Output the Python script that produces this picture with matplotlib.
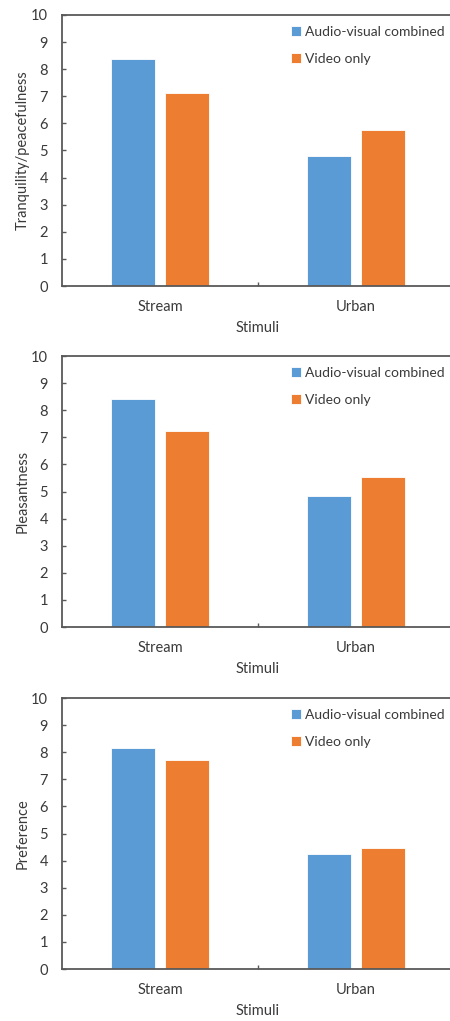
import numpy as np
import matplotlib
matplotlib.use("Agg")
import matplotlib.pyplot as plt
from matplotlib.ticker import FixedLocator

plt.rcParams['font.family'] = ['Lato', 'DejaVu Sans']

stimuli = ["Stream", "Urban"]
series_names = ["Audio-visual combined", "Video only"]
ylabels = ["Tranquility/peacefulness", "Pleasantness", "Preference"]

# values per panel: [stream, urban]
tranq_av = [8.36, 4.78]
tranq_vo = [7.14, 5.77]
pleas_av = [8.41, 4.84]
pleas_vo = [7.22, 5.53]
pref_av = [8.16, 4.26]
pref_vo = [7.71, 4.45]

panels = [(tranq_av, tranq_vo), (pleas_av, pleas_vo), (pref_av, pref_vo)]

blue = "#5B9BD5"
orange = "#ED7D31"
txt = "#3a3a3a"
spine = "#595959"

W, H = 450, 1021
fig = plt.figure(figsize=(W / 100, H / 100), dpi=100)

# axes boxes in pixels: (top, bottom)
boxes = [(15, 286), (356, 627), (698, 969)]
left_px, right_px = 62, 454

x = np.arange(len(stimuli))
bw = 0.225
off = 0.14

for (av, vo), ylab, (top, bot) in zip(panels, ylabels, boxes):
    ax = fig.add_axes([left_px / W, 1 - bot / H, (right_px - left_px) / W, (bot - top) / H])
    ax.bar(x - off, av, bw, color=blue, edgecolor="white", linewidth=0.6, label=series_names[0])
    ax.bar(x + off, vo, bw, color=orange, edgecolor="white", linewidth=0.6, label=series_names[1])
    ax.set_xlim(-0.5, 1.5)
    ax.set_ylim(0, 10)
    ax.set_yticks(range(0, 11))
    ax.tick_params(axis="y", direction="in", length=3, width=1, color=spine,
                   labelsize=10.5, labelcolor=txt, pad=10)
    ax.set_xticks(x)
    ax.set_xticklabels(stimuli)
    ax.tick_params(axis="x", length=0, labelsize=10.5, labelcolor=txt, pad=10)
    ax.xaxis.set_minor_locator(FixedLocator([0.5]))
    ax.tick_params(axis="x", which="minor", direction="in", length=3, width=1, color=spine)
    for s in ax.spines.values():
        s.set_color(spine)
        s.set_linewidth(1.3)
    ax.set_ylabel(ylab, fontsize=10.5, color=txt)
    ax.yaxis.set_label_coords(-0.083, 0.5)
    ax.set_xlabel("Stimuli", fontsize=10.5, color=txt, labelpad=5)
    ax.legend(loc="upper right", bbox_to_anchor=(0.998, 0.99), frameon=False,
              fontsize=10, labelcolor=txt, handlelength=0.7, handleheight=0.7,
              handletextpad=0.3, labelspacing=1.05, borderaxespad=0.2)

fig.savefig("out.png", dpi=100)
